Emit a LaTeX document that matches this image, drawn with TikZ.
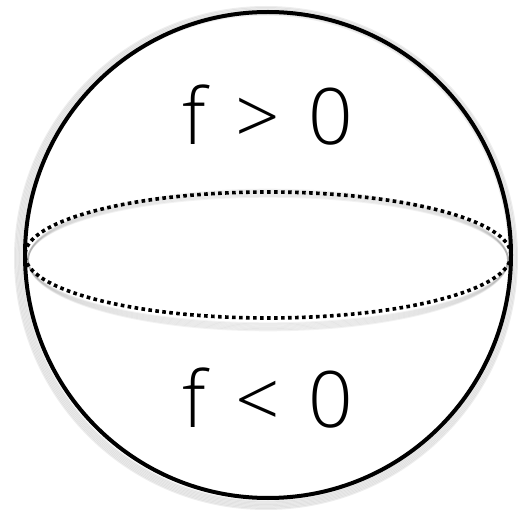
\documentclass[tikz,border=0pt]{standalone}
\usepackage{fontspec}
\setmainfont{Open Sans Light}
\begin{document}
\begin{tikzpicture}[x=1pt,y=-1pt,
  rim/.style={line width=4pt,black},
  equator/.style={line width=3.6pt,black,dash pattern=on 3.6pt off 3.4pt},
  lbl/.style={font=\fontsize{78}{90}\selectfont,inner sep=0pt,anchor=base}]
\useasboundingbox (0,0) rectangle (520,513);
\coordinate (c) at (268,255);
% soft shadows
\foreach \i in {1,...,7}{
  \draw[line width=1.8pt,black,opacity=0.07] ([xshift=-2pt,yshift=-3pt]c) circle[radius=242+\i*1.3];
  \draw[line width=1.8pt,black,opacity=0.05] ([yshift=-5pt]c) ellipse[x radius=240,y radius=62+\i*1.2];
}
\draw[rim] (c) circle[radius=243];
\draw[equator] (c) ellipse[x radius=243,y radius=63];
\node[lbl] (top) at (268,145) {f\hspace{9pt} >\hspace{9pt} 0};
\node[lbl] (bot) at (268,427) {f\hspace{9pt} <\hspace{9pt} 0};
\end{tikzpicture}
\end{document}
